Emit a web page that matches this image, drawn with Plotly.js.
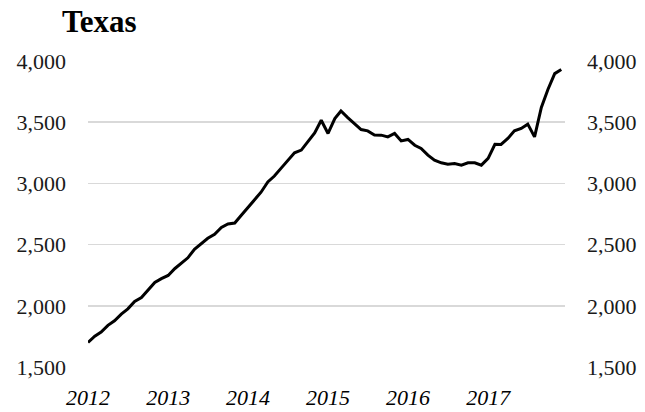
<!DOCTYPE html>
<html>
<head>
<meta charset="utf-8">
<script src="https://cdn.plot.ly/plotly-3.0.1.min.js"></script>
<style>html,body{margin:0;padding:0;background:#fff;}#chart{width:645px;height:412px;}</style>
</head>
<body>
<div id="chart"></div>
<script>
var months = [
"2012-01-01","2012-02-01","2012-03-01","2012-04-01","2012-05-01","2012-06-01","2012-07-01","2012-08-01","2012-09-01","2012-10-01","2012-11-01","2012-12-01",
"2013-01-01","2013-02-01","2013-03-01","2013-04-01","2013-05-01","2013-06-01","2013-07-01","2013-08-01","2013-09-01","2013-10-01","2013-11-01","2013-12-01",
"2014-01-01","2014-02-01","2014-03-01","2014-04-01","2014-05-01","2014-06-01","2014-07-01","2014-08-01","2014-09-01","2014-10-01","2014-11-01","2014-12-01",
"2015-01-01","2015-02-01","2015-03-01","2015-04-01","2015-05-01","2015-06-01","2015-07-01","2015-08-01","2015-09-01","2015-10-01","2015-11-01","2015-12-01",
"2016-01-01","2016-02-01","2016-03-01","2016-04-01","2016-05-01","2016-06-01","2016-07-01","2016-08-01","2016-09-01","2016-10-01","2016-11-01","2016-12-01",
"2017-01-01","2017-02-01","2017-03-01","2017-04-01","2017-05-01","2017-06-01","2017-07-01","2017-08-01","2017-09-01","2017-10-01","2017-11-01","2017-12-01"
];
var texasValues = [
1700,1752,1785,1840,1878,1932,1975,2036,2068,2125,2190,2222,
2248,2305,2350,2392,2462,2508,2552,2585,2640,2668,2676,2740,
2808,2872,2928,3012,3060,3125,3186,3250,3272,3338,3412,3516,
3408,3530,3592,3538,3489,3440,3429,3396,3394,3380,3408,3347,
3359,3312,3285,3231,3190,3168,3157,3163,3149,3168,3168,3149,
3204,3320,3318,3367,3429,3449,3484,3380,3620,3767,3897,3930
];
var yearTickVals = ["2012-01-01","2013-01-01","2014-01-01","2015-01-01","2016-01-01","2017-01-01"];
var yearTickText = ["2012","2013","2014","2015","2016","2017"];
var yTickVals = [1500,2000,2500,3000,3500,4000];
var yTickText = ["1,500","2,000","2,500","3,000","3,500","4,000"];
var chartTitle = "Texas";

var serif = "Liberation Serif";
var data = [
  {x: months, y: texasValues, type: "scatter", mode: "lines",
   line: {color: "#000000", width: 3}, hoverinfo: "skip", showlegend: false},
  {x: months, y: texasValues, type: "scatter", mode: "lines", yaxis: "y2",
   line: {color: "rgba(0,0,0,0)", width: 0}, hoverinfo: "skip", showlegend: false}
];
var tickFont = {family: serif, size: 22, color: "#1a1a1a"};
var layout = {
  width: 645, height: 412,
  margin: {l: 88, r: 80, t: 61, b: 45},
  paper_bgcolor: "#ffffff", plot_bgcolor: "#ffffff",
  title: {text: "<b>" + chartTitle + "</b>", font: {family: serif, size: 31, color: "#000000"},
          x: 62/645, xref: "container", xanchor: "left", y: 1 - 10/412, yref: "container", yanchor: "top"},
  xaxis: {type: "date", range: ["2012-01-01", "2017-12-18"], tickvals: yearTickVals, ticktext: yearTickText,
          showgrid: false, zeroline: false, showline: false, ticks: "", ticklabelstandoff: 15,
          tickfont: {family: serif, size: 22, color: "#000000", style: "italic"}},
  yaxis: {range: [1500, 4000], tickvals: yTickVals, ticktext: yTickText, showgrid: true,
          gridcolor: "#d9d9d9", gridwidth: 1.5, zeroline: false, showline: false, ticks: "",
          ticklabelstandoff: 21, tickfont: tickFont},
  yaxis2: {range: [1500, 4000], overlaying: "y", side: "right", tickvals: yTickVals, ticktext: yTickText,
           showgrid: false, zeroline: false, showline: false, ticks: "", ticklabelstandoff: 21, tickfont: tickFont}
};
Plotly.newPlot("chart", data, layout, {staticPlot: true, displayModeBar: false});
</script>
</body>
</html>
